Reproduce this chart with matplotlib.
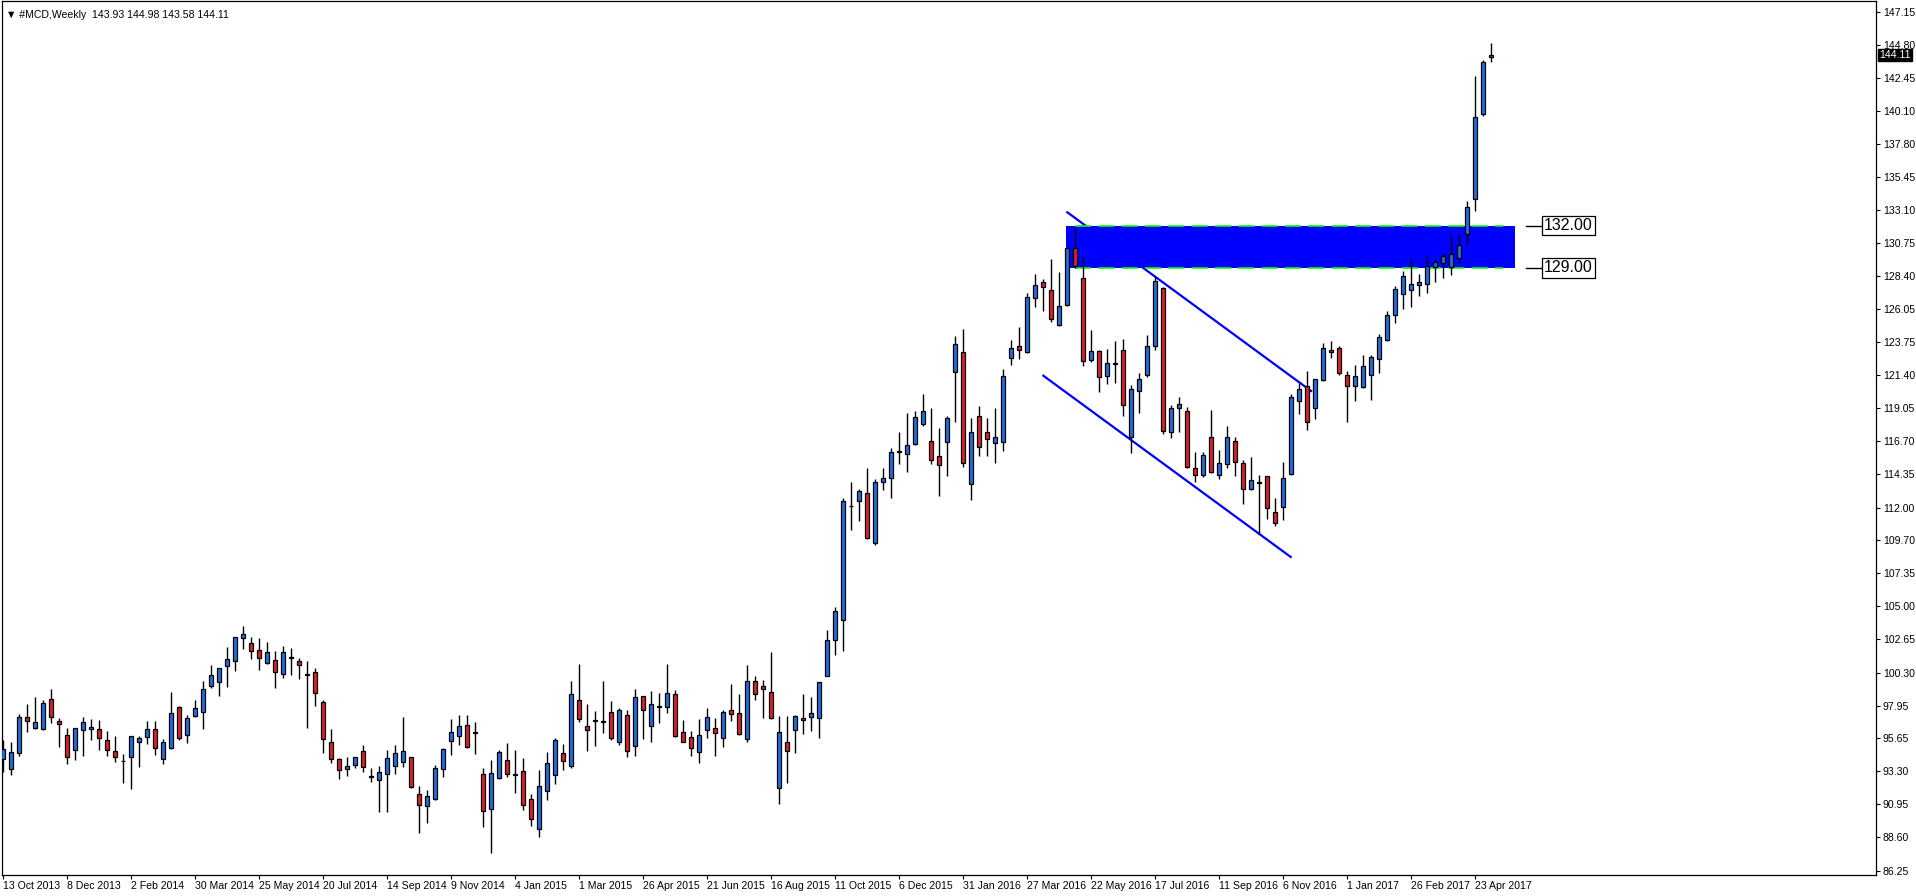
import matplotlib
matplotlib.use("Agg")
import matplotlib.pyplot as plt

symbol = "#MCD,Weekly"

# weekly candles, first bar = week of 13 Oct 2013
opens = [
    94.15, 93.44, 94.58, 97.13, 96.35, 96.28, 98.41, 96.89, 95.85, 94.79,
    96.21, 96.28, 96.28, 95.50, 94.72, 94.06, 94.29, 95.36, 95.71, 96.28,
    94.15, 94.93, 97.84, 95.85, 97.20, 97.48, 99.33, 99.61, 100.75, 101.10,
    102.73, 102.38, 101.88, 100.96, 101.17, 100.18, 101.38, 101.10, 100.11, 100.32,
    98.19, 95.36, 94.15, 93.44, 93.72, 94.72, 92.94, 92.66, 93.09, 93.65,
    93.94, 94.29, 91.67, 90.82, 91.31, 93.44, 95.43, 95.78, 96.56, 96.06,
    93.09, 90.65, 92.80, 94.08, 93.09, 93.30, 91.31, 89.19, 91.88, 93.02,
    94.58, 93.65, 98.33, 96.49, 96.92, 96.84, 97.48, 95.36, 97.27, 95.07,
    98.62, 96.49, 97.89, 97.84, 98.76, 96.06, 95.71, 94.65, 96.21, 96.35,
    95.64, 97.63, 97.41, 95.57, 99.68, 99.33, 98.90, 92.09, 95.36, 96.21,
    97.06, 97.13, 97.06, 100.04, 102.59, 104.00, 112.12, 112.44, 113.01, 109.47,
    113.79, 114.07, 115.92, 115.78, 116.49, 117.90, 116.70, 115.64, 116.63, 121.59,
    123.01, 113.65, 118.47, 117.34, 116.56, 116.63, 122.59, 123.44, 123.01, 126.84,
    127.98, 127.41, 124.93, 126.35, 130.39, 128.26, 122.45, 123.08, 121.31, 122.16,
    123.16, 116.99, 120.25, 121.38, 123.44, 127.55, 117.34, 119.04, 118.83, 114.79,
    114.29, 116.99, 114.29, 115.07, 116.70, 115.14, 113.30, 113.79, 114.22, 111.67,
    112.02, 114.36, 119.54, 120.60, 119.04, 121.03, 123.16, 123.30, 121.38, 120.60,
    120.53, 121.38, 122.52, 123.87, 125.64, 127.13, 127.41, 127.77, 127.84, 129.04,
    129.32, 129.04, 129.68, 131.38, 133.88, 139.89, 143.93,
]
highs = [
    95.52, 95.36, 97.34, 98.07, 98.57, 98.36, 99.14, 97.06, 96.37, 96.40,
    97.13, 97.01, 96.94, 96.16, 95.80, 94.53, 95.80, 95.78, 96.87, 96.87,
    95.57, 98.93, 97.91, 97.27, 98.36, 99.71, 100.84, 100.62, 102.12, 102.82,
    103.61, 102.80, 102.73, 102.45, 101.81, 102.16, 102.02, 101.31, 101.10, 100.60,
    98.33, 96.28, 94.22, 94.29, 94.31, 95.14, 93.51, 93.65, 94.79, 95.14,
    97.13, 94.31, 92.24, 91.95, 93.72, 94.93, 97.01, 97.27, 97.27, 96.77,
    93.51, 94.08, 94.79, 95.28, 94.79, 94.22, 91.67, 93.37, 94.65, 95.64,
    95.21, 99.68, 100.89, 98.05, 97.55, 99.68, 98.26, 97.77, 97.63, 99.11,
    98.64, 98.97, 98.83, 100.89, 99.04, 96.92, 96.14, 96.99, 97.77, 97.06,
    97.63, 99.47, 98.76, 100.82, 100.04, 99.75, 101.74, 97.20, 97.20, 97.27,
    98.76, 98.55, 99.63, 103.30, 104.93, 112.66, 113.79, 113.29, 114.78, 114.00,
    114.78, 116.20, 117.34, 118.68, 118.83, 120.03, 119.04, 117.62, 118.47, 124.15,
    124.64, 118.33, 119.18, 118.33, 119.04, 121.81, 123.86, 124.78, 127.20, 128.54,
    128.19, 129.61, 128.69, 130.50, 131.81, 129.82, 124.57, 123.16, 123.23, 123.79,
    123.94, 120.67, 121.52, 124.22, 128.40, 127.62, 119.25, 119.82, 119.11, 115.92,
    115.92, 118.90, 116.06, 117.77, 116.99, 115.35, 115.57, 114.29, 114.24, 112.66,
    115.21, 120.03, 120.81, 121.67, 121.12, 123.65, 123.79, 123.44, 121.67, 122.09,
    122.80, 122.80, 124.29, 125.92, 127.69, 128.76, 129.61, 128.54, 129.82, 129.61,
    130.03, 131.38, 131.38, 133.72, 142.59, 143.72, 144.98,
]
lows = [
    93.28, 93.06, 94.41, 96.11, 96.28, 96.20, 96.75, 95.05, 93.84, 94.13,
    94.41, 95.50, 94.84, 94.41, 93.98, 92.50, 92.07, 93.63, 95.26, 94.48,
    93.84, 94.86, 95.50, 95.33, 97.13, 96.33, 99.21, 98.67, 99.30, 100.44,
    102.00, 101.29, 100.51, 100.94, 99.23, 99.94, 100.16, 99.87, 96.40, 97.96,
    94.62, 93.91, 92.78, 92.99, 93.56, 93.28, 92.52, 90.39, 90.44, 93.09,
    93.58, 92.12, 88.90, 89.61, 91.29, 92.87, 94.48, 95.19, 94.98, 94.55,
    89.37, 87.48, 92.78, 92.87, 91.74, 90.53, 89.40, 88.62, 91.24, 92.38,
    93.37, 93.51, 96.77, 94.76, 95.12, 96.04, 95.50, 95.19, 94.29, 94.36,
    95.62, 95.40, 96.70, 97.41, 95.71, 95.34, 94.36, 93.87, 95.64, 94.36,
    95.05, 96.84, 95.90, 95.36, 98.33, 97.06, 96.99, 90.96, 92.45, 94.58,
    95.92, 96.14, 95.64, 100.02, 101.53, 101.85, 110.43, 111.07, 109.75, 109.32,
    113.22, 112.70, 115.07, 114.50, 116.47, 117.76, 115.07, 112.85, 114.22, 118.05,
    114.86, 112.52, 115.64, 115.64, 115.14, 115.99, 122.09, 122.51, 122.94, 126.20,
    125.92, 125.14, 124.86, 126.28, 128.97, 122.02, 122.30, 120.18, 120.74, 120.81,
    118.47, 115.85, 118.69, 121.24, 123.16, 117.20, 116.91, 117.34, 114.84, 113.79,
    114.15, 114.48, 114.01, 114.79, 114.22, 112.23, 113.23, 110.11, 111.17, 110.67,
    111.10, 114.34, 118.62, 117.48, 118.26, 121.01, 122.59, 121.38, 118.05, 119.54,
    120.51, 119.61, 121.52, 123.85, 125.07, 126.06, 126.20, 126.99, 127.20, 127.98,
    128.26, 128.47, 129.32, 130.67, 133.01, 139.75, 143.58,
]
closes = [
    94.86, 94.65, 97.13, 96.84, 96.77, 98.12, 97.13, 96.63, 94.29, 96.35,
    96.77, 96.42, 95.64, 94.79, 94.29, 94.02, 95.78, 95.64, 96.28, 94.93,
    95.36, 97.41, 95.64, 97.06, 97.77, 99.11, 100.11, 100.60, 101.24, 102.80,
    103.02, 101.81, 101.31, 101.74, 100.32, 101.74, 101.31, 100.82, 100.18, 98.83,
    95.57, 94.15, 93.37, 93.65, 94.29, 93.58, 92.87, 93.23, 94.22, 94.58,
    94.72, 92.16, 90.89, 91.53, 93.51, 94.86, 96.06, 96.49, 95.00, 96.04,
    90.46, 93.16, 94.65, 93.09, 93.02, 90.89, 89.89, 92.24, 93.87, 95.50,
    94.01, 98.76, 96.99, 96.21, 96.84, 96.77, 95.64, 97.63, 94.72, 98.55,
    97.63, 98.05, 97.91, 98.83, 95.78, 95.36, 94.93, 95.85, 97.13, 95.99,
    97.48, 97.34, 95.92, 99.68, 98.76, 99.11, 97.06, 96.06, 94.72, 97.20,
    96.92, 97.41, 99.61, 102.59, 104.65, 112.44, 112.10, 113.15, 109.82, 113.79,
    114.07, 115.92, 115.99, 116.42, 118.40, 118.83, 115.35, 115.00, 118.33, 123.58,
    115.14, 117.34, 116.27, 116.84, 116.98, 121.31, 123.29, 123.15, 126.91, 127.76,
    127.62, 125.35, 126.28, 130.39, 129.11, 122.37, 123.08, 121.24, 122.23, 122.23,
    119.25, 120.39, 121.10, 123.44, 128.05, 117.41, 119.04, 119.33, 114.86, 114.29,
    115.71, 114.50, 115.14, 116.99, 115.21, 113.30, 113.94, 113.72, 111.95, 110.89,
    114.08, 119.82, 120.39, 118.05, 121.10, 123.30, 123.01, 121.52, 120.60, 121.31,
    122.02, 122.66, 124.08, 125.64, 127.48, 128.40, 127.84, 127.98, 129.11, 129.40,
    129.82, 129.96, 130.60, 133.30, 139.68, 143.58, 144.11,
]

date_labels = [
    "13 Oct 2013", "8 Dec 2013", "2 Feb 2014", "30 Mar 2014", "25 May 2014",
    "20 Jul 2014", "14 Sep 2014", "9 Nov 2014", "4 Jan 2015", "1 Mar 2015",
    "26 Apr 2015", "21 Jun 2015", "16 Aug 2015", "11 Oct 2015", "6 Dec 2015",
    "31 Jan 2016", "27 Mar 2016", "22 May 2016", "17 Jul 2016", "11 Sep 2016",
    "6 Nov 2016", "1 Jan 2017", "26 Feb 2017", "23 Apr 2017",
]
label_step = 8

price_ticks = [
    147.15, 144.80, 142.45, 140.10, 137.80, 135.45, 133.10, 130.75, 128.40,
    126.05, 123.75, 121.40, 119.05, 116.70, 114.35, 112.00, 109.70, 107.35,
    105.00, 102.65, 100.30, 97.95, 95.65, 93.30, 90.95, 88.60, 86.25,
]

# resistance zone and falling channel
zone_low = 129.00
zone_high = 132.00
zone_bars = (132.85, 189.0)
zone_dash_bars = (134.0, 187.5)
upper_channel = ([132.9, 163.6], [132.99, 120.22])
lower_channel = ([129.9, 161.05], [121.40, 108.45])

UP = "#1f72de"
DOWN = "#dc1f2b"
FONT = ["Liberation Sans", "DejaVu Sans"]
plt.rcParams["font.family"] = FONT

fig = plt.figure(figsize=(19.16, 8.96), dpi=100)
ax = fig.add_axes([2 / 1916, 21 / 896, 1874 / 1916, 874 / 896])

x = list(range(len(opens)))
colors = [UP if c >= o else DOWN for o, c in zip(opens, closes)]
bottoms = [min(o, c) for o, c in zip(opens, closes)]
heights = [abs(c - o) for o, c in zip(opens, closes)]

ax.plot(*upper_channel, color="#0000ff", lw=1.6, zorder=2, solid_capstyle="butt")
ax.plot(*lower_channel, color="#0000ff", lw=1.6, zorder=2, solid_capstyle="butt")

ax.fill_between(zone_bars, zone_low, zone_high, color="#0000ff", lw=0, zorder=3)
for lvl in (zone_low, zone_high):
    ax.plot(zone_dash_bars, [lvl, lvl], color="#00ff00", lw=1.2,
            ls=(0, (9.6, 4.4)), zorder=4)

ax.vlines(x, lows, highs, color="black", lw=1.0, zorder=5)
ax.bar(x, heights, bottom=bottoms, width=0.55, color=colors,
       edgecolor="black", linewidth=0.9, zorder=6)

# level labels on the right of the zone
for lvl in (zone_high, zone_low):
    ax.plot([190.4, 192.3], [lvl, lvl], color="black", lw=1.0, zorder=6)
    ax.text(192.6, lvl, f"{lvl:.2f}", fontsize=11.5, ha="left", va="center",
            zorder=7, bbox=dict(boxstyle="square,pad=0.14", fc="white",
                                ec="black", lw=0.9))

ax.set_xlim(-0.16, 234.1)
ax.set_ylim(85.94, 147.93)

ax.set_xticks(range(0, len(date_labels) * label_step, label_step))
ax.set_xticklabels(date_labels, ha="left", fontsize=7.6)
ax.yaxis.tick_right()
ax.set_yticks(price_ticks)
ax.set_yticklabels([f"{p:.2f}" for p in price_ticks], fontsize=7.6)
ax.tick_params(axis="both", direction="out", length=3, width=0.8, color="black")
ax.tick_params(axis="x", pad=1)
ax.tick_params(axis="y", pad=2)
for s in ax.spines.values():
    s.set_color("black")
    s.set_linewidth(0.9)

# current price box
ax.text(1.0015, closes[-1], f"{closes[-1]:.2f}", transform=ax.get_yaxis_transform(),
        fontsize=7.6, color="white", ha="left", va="center", clip_on=False,
        zorder=8, bbox=dict(boxstyle="square,pad=0.12", fc="black", ec="black"))

header = f"\u25bc {symbol}  {opens[-1]:.2f} {highs[-1]:.2f} {lows[-1]:.2f} {closes[-1]:.2f}"
ax.text(0.002, 0.99, header, transform=ax.transAxes, fontsize=7.6,
        ha="left", va="top", family=FONT)

fig.savefig("out.png", dpi=100, facecolor="white")
